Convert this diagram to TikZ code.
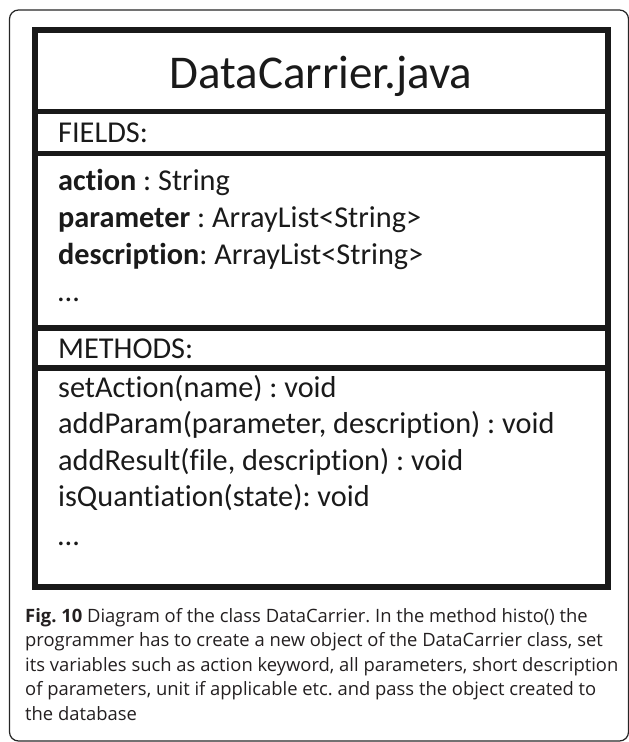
\documentclass[tikz,border=0pt]{standalone}
\usepackage{fontspec}
\setmainfont{Carlito}[Ligatures=NoCommon]
\newfontfamily\capfont{Open Sans}
\definecolor{ink}{HTML}{1A1A1A}
\definecolor{capink}{HTML}{231F20}
\frenchspacing
\begin{document}
\begin{tikzpicture}[x=1pt,y=-1pt,
  frame/.style={draw=black!85, line width=1.2pt, rounded corners=9pt},
  classbox/.style={draw=black!90, line width=6pt},
  sepline/.style={draw=black!90, line width=5.5pt},
  titletext/.style={anchor=base, inner sep=0pt, text=ink, font=\fontsize{47}{56}\selectfont},
  umltext/.style={anchor=base west, inner sep=0pt, text=ink, font=\fontsize{30.3}{36}\selectfont},
  captext/.style={anchor=base west, inner sep=0pt, text=capink, font=\capfont\fontsize{18.4}{24}\selectfont}]
\useasboundingbox (0,0) rectangle (629,742);
% outer frame
\draw[frame] (9.5,10) rectangle (628.5,741);
% class box
\draw[classbox] (34.5,30) rectangle (607.5,587);
\draw[sepline] (34.5,111.5) -- (607.5,111.5);
\draw[sepline] (34.5,153.5) -- (607.5,153.5);
\draw[sepline] (34.5,328) -- (607.5,328);
\draw[sepline] (34.5,368) -- (607.5,368);
% title
\node[titletext] (title) at (321,88) {DataCarrier.java};
% fields
\node[umltext] (fields) at (58,142) {FIELDS:};
\node[umltext] (f1) at (58,190) {\textbf{action} : String};
\node[umltext] (f2) at (58,227) {\textbf{parameter} : ArrayList<String>};
\node[umltext] (f3) at (58,264) {\textbf{description}: ArrayList<String>};
\node[umltext] (f4) at (58,301) {\dots};
% methods
\node[umltext] (methods) at (58,358) {METHODS:};
\node[umltext] (m1) at (58,397) {setAction(name) : void};
\node[umltext] (m2) at (58,433.5) {addParam(parameter, description) : void};
\node[umltext] (m3) at (58,470) {addResult(file, description) : void};
\node[umltext] (m4) at (58,506.5) {isQuantiation(state): void};
\node[umltext] (m5) at (58,545) {\dots};
% caption
\node[captext] (c1) at (25,622) {\textbf{Fig. 10} Diagram of the class DataCarrier. In the method histo() the};
\node[captext] (c2) at (25,646.5) {programmer has to create a new object of the DataCarrier class, set};
\node[captext] (c3) at (25,671) {its variables such as action keyword, all parameters, short description};
\node[captext] (c4) at (25,695.5) {of parameters, unit if applicable etc. and pass the object created to};
\node[captext] (c5) at (25,720) {the database};
\end{tikzpicture}
\end{document}
